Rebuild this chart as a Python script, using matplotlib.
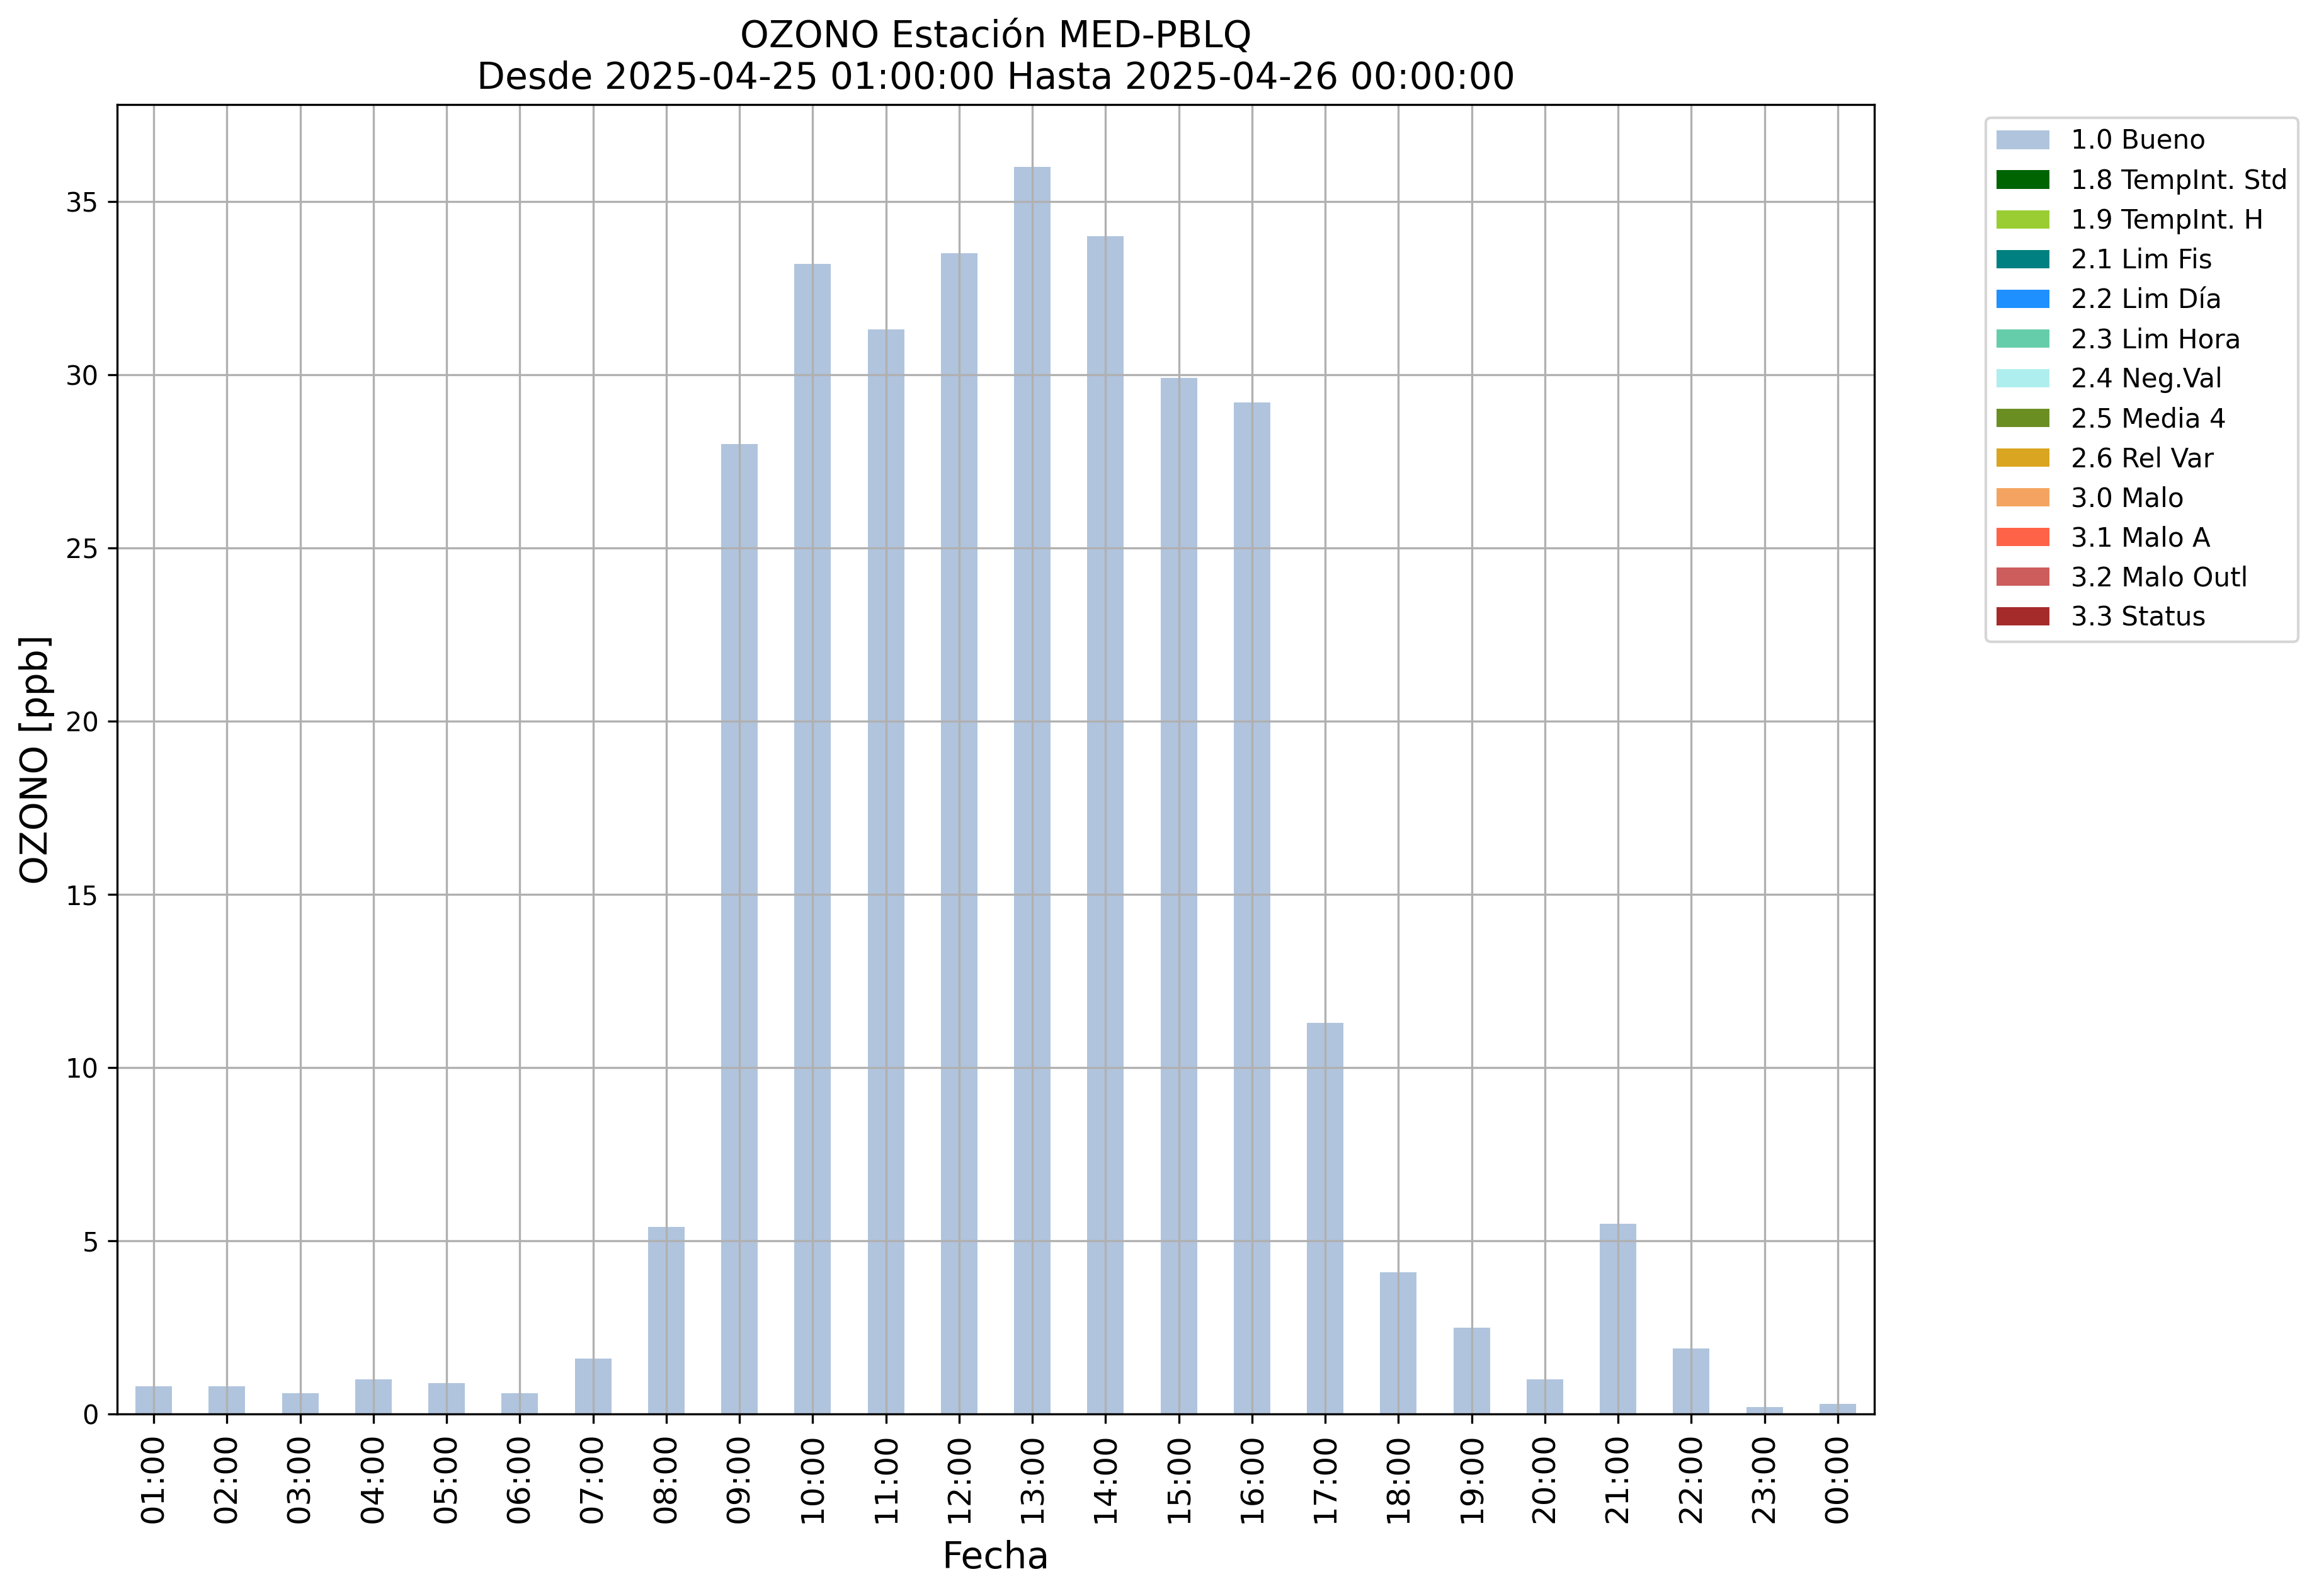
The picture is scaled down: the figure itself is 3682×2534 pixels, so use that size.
#!/usr/bin/env python3
"""
Hourly ozone bar chart for station MED-PBLQ, coloured by data-quality flag.
"""

import matplotlib
matplotlib.use("Agg")
import matplotlib.pyplot as plt
from matplotlib.patches import Patch

STATION = "MED-PBLQ"
START = "2025-04-25 01:00:00"
END = "2025-04-26 00:00:00"

hours = [
    "01:00", "02:00", "03:00", "04:00", "05:00", "06:00", "07:00", "08:00",
    "09:00", "10:00", "11:00", "12:00", "13:00", "14:00", "15:00", "16:00",
    "17:00", "18:00", "19:00", "20:00", "21:00", "22:00", "23:00", "00:00",
]

# all hours carry flag 1.0 (Bueno)
ozone_ppb = [
    0.8, 0.8, 0.6, 1.0, 0.9, 0.6, 1.6, 5.4,
    28.0, 33.2, 31.3, 33.5, 36.0, 34.0, 29.9, 29.2,
    11.3, 4.1, 2.5, 1.0, 5.5, 1.9, 0.2, 0.3,
]

flag_labels = [
    "1.0 Bueno", "1.8 TempInt. Std", "1.9 TempInt. H", "2.1 Lim Fis",
    "2.2 Lim Día", "2.3 Lim Hora", "2.4 Neg.Val", "2.5 Media 4",
    "2.6 Rel Var", "3.0 Malo", "3.1 Malo A", "3.2 Malo Outl", "3.3 Status",
]
flag_colors = [
    "lightsteelblue", "darkgreen", "yellowgreen", "teal",
    "dodgerblue", "mediumaquamarine", "paleturquoise", "olivedrab",
    "goldenrod", "sandybrown", "tomato", "indianred", "brown",
]


def make_plot():
    fig = plt.figure(figsize=(3682 / 300, 2534 / 300), dpi=300)
    ax = fig.add_axes([186 / 3682, 1 - 2245 / 2534,
                       (2976 - 186) / 3682, (2245 - 166) / 2534])

    x = range(len(hours))
    ax.bar(x, ozone_ppb, width=0.5, color=flag_colors[0])
    ax.set_xlim(-0.5, len(hours) - 0.5)

    ax.set_xticks(list(x))
    ax.set_xticklabels(hours, rotation=90, fontsize=12)
    ax.tick_params(axis="y", labelsize=10)
    ax.grid(True)

    ax.set_xlabel("Fecha", fontsize=14, labelpad=6.5)
    ax.set_ylabel("OZONO [ppb]", fontsize=14)
    ax.set_title(f"OZONO Estación {STATION}\nDesde {START} Hasta {END}", fontsize=14)

    handles = [Patch(facecolor=c, label=l) for c, l in zip(flag_colors, flag_labels)]
    ax.legend(handles=handles, loc="upper left", bbox_to_anchor=(1.056, 1),
              fontsize=10.1)
    return fig


def main():
    fig = make_plot()
    fig.savefig("out.png", dpi=300)


if __name__ == "__main__":
    main()
